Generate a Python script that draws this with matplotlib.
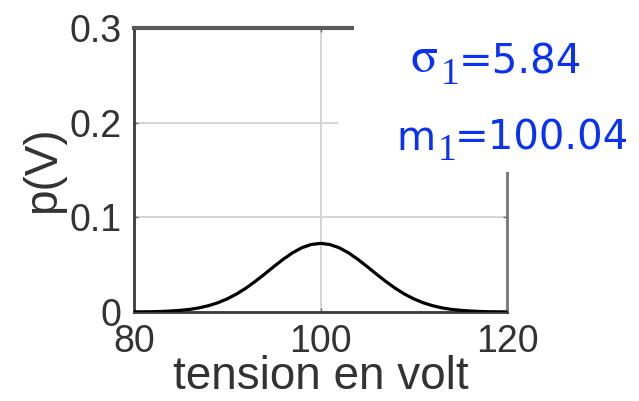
import matplotlib
matplotlib.use("Agg")
import matplotlib.pyplot as plt
from matplotlib.patches import Rectangle

# ---- data ----
volts = [80, 81, 82, 83, 84, 85, 86, 87, 88, 89, 90, 91, 92, 93, 94, 95, 96, 97, 98, 99,
         100, 101, 102, 103, 104, 105, 106, 107, 108, 109, 110, 111, 112, 113, 114, 115,
         116, 117, 118, 119, 120]
density = [0.0001, 0.0002, 0.0003, 0.0006, 0.0011, 0.0018, 0.0028, 0.0044, 0.0067, 0.0098,
           0.0139, 0.0190, 0.0252, 0.0323, 0.0400, 0.0480, 0.0557, 0.0625, 0.0679, 0.0713,
           0.0725,
           0.0713, 0.0679, 0.0625, 0.0557, 0.0480, 0.0400, 0.0323, 0.0252, 0.0190, 0.0139,
           0.0098, 0.0067, 0.0044, 0.0028, 0.0018, 0.0011, 0.0006, 0.0003, 0.0002, 0.0001]
x_ticks = [80, 100, 120]
x_tick_labels = ["80", "100", "120"]
y_ticks = [0, 0.1, 0.2, 0.3]
y_tick_labels = ["0", "0.1", "0.2", "0.3"]
sigma_symbol, sigma_sub, sigma_value = "σ", "1", "=5.84"
mean_symbol, mean_sub, mean_value = "m", "1", "=100.04"
x_label = "tension en volt"
y_label = "p(V)"

W, H = 639, 401
fig = plt.figure(figsize=(W / 100, H / 100), dpi=100)
L, R, T, B = 134, 507, 28, 312
ax = fig.add_axes([L / W, 1 - B / H, (R - L) / W, (B - T) / H])

ax.plot(volts, density, color="black", lw=2.3, zorder=3, solid_capstyle="butt")
ax.set_xlim(80, 120)
ax.set_ylim(0, 0.3)

ax.set_xticks(x_ticks)
ax.set_xticklabels(x_tick_labels)
ax.set_yticks(y_ticks)
ax.set_yticklabels(y_tick_labels)

ax.grid(True, color="#d2d2d2", lw=1.3, zorder=0)
ax.set_axisbelow(True)

tick_col = "#333333"
ax.tick_params(direction="in", length=3, width=1, color="#666666",
               top=True, right=True, labelsize=27, labelcolor=tick_col)
ax.tick_params(axis="y", pad=9)
ax.tick_params(axis="x", pad=9)
for lab in ax.get_xticklabels() + ax.get_yticklabels():
    lab.set_fontfamily("Liberation Sans")

ax.spines["left"].set_color("#3a3a3a")
ax.spines["left"].set_linewidth(2.0)
ax.spines["bottom"].set_color("#3a3a3a")
ax.spines["bottom"].set_linewidth(2.0)
ax.spines["top"].set_color("#5a5a5a")
ax.spines["top"].set_linewidth(3.0)
ax.spines["right"].set_color("#777777")
ax.spines["right"].set_linewidth(2.0)

ax.set_xlabel(x_label, fontsize=33, color=tick_col, family="Liberation Sans")
ax.set_ylabel(y_label, fontsize=33, color=tick_col, family="Liberation Sans")
ax.xaxis.set_label_coords(0.5, -0.153)
ax.yaxis.set_label_coords(-0.185, 0.5)

# white boxes hiding the upper right corner of the frame
def px_rect(x0, y0, x1, y1):
    return Rectangle((x0 / W, 1 - y1 / H), (x1 - x0) / W, (y1 - y0) / H,
                     transform=fig.transFigure, facecolor="white",
                     edgecolor="none", zorder=10)

fig.patches.append(px_rect(354, 0, W, 100))
fig.patches.append(px_rect(338, 100, W, 172))

blue = "#0a32f5"

def px_text(x, y, s, size, family):
    fig.text(x / W, 1 - y / H, s, color=blue, fontsize=size, family=family,
             ha="left", va="baseline", zorder=11)

px_text(411, 72, sigma_symbol, 36, "STIXGeneral")
px_text(441, 84, sigma_sub, 27, "Liberation Serif")
px_text(459, 73, sigma_value, 29, "DejaVu Sans")
px_text(396, 150, mean_symbol, 29, "DejaVu Sans")
px_text(438, 160, mean_sub, 27, "Liberation Serif")
px_text(455, 150, mean_value, 29, "DejaVu Sans")

fig.savefig("out.png", dpi=100)
